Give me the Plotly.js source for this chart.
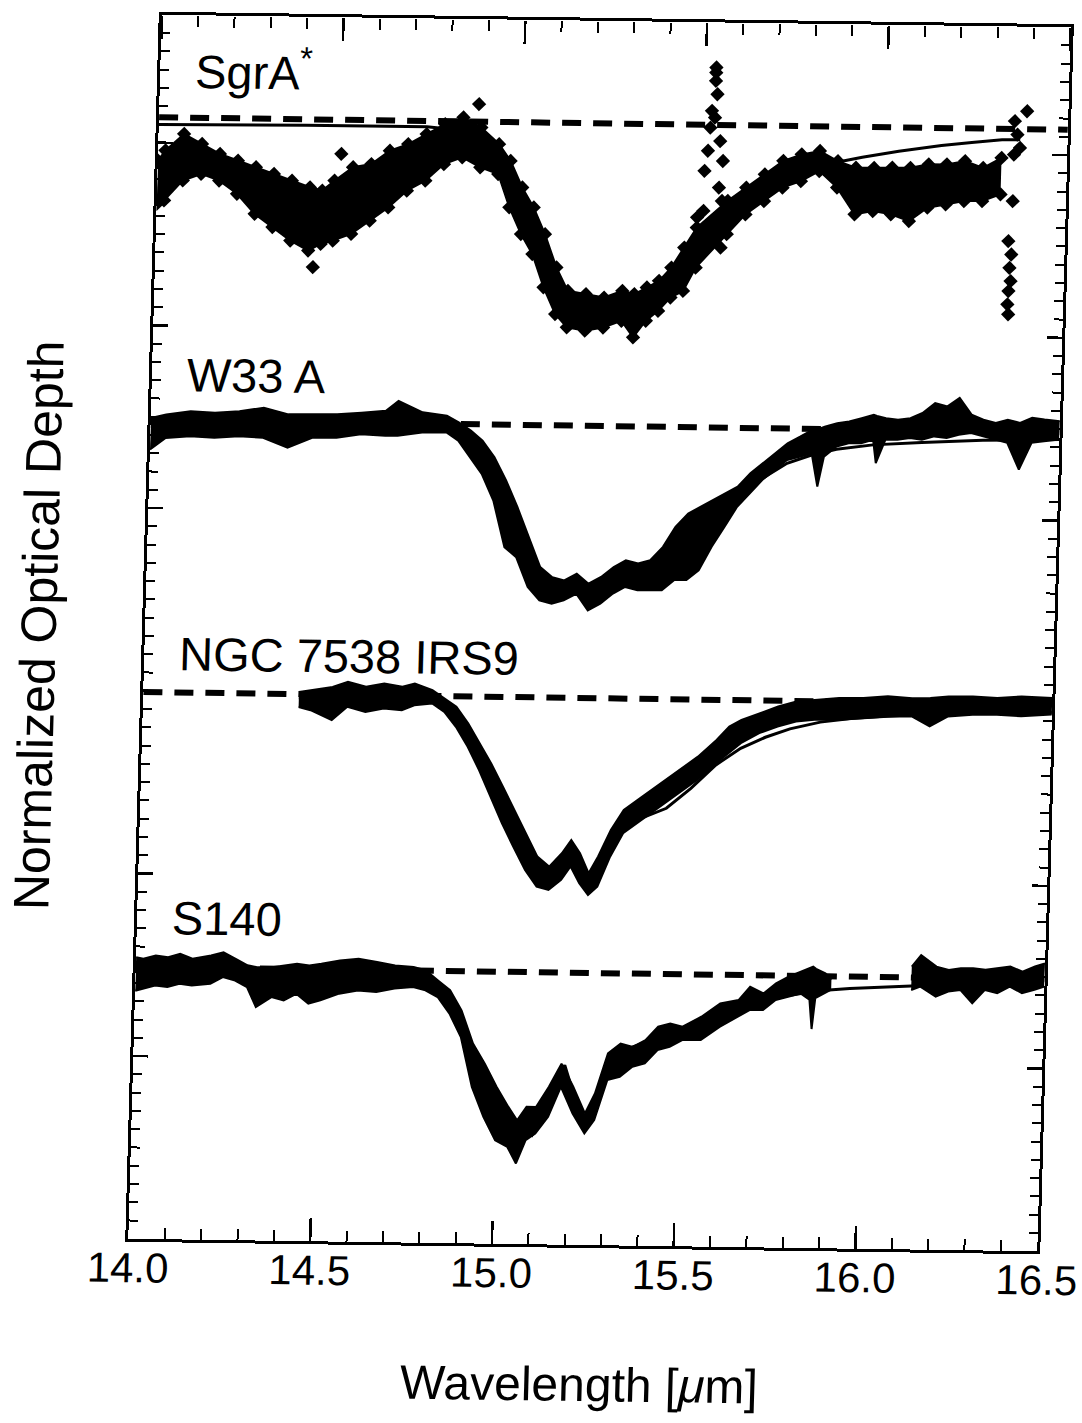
<!DOCTYPE html>
<html>
<head>
<meta charset="utf-8">
<script src="https://cdn.plot.ly/plotly-3.0.1.min.js"></script>
<style>
html,body{margin:0;padding:0;background:#fff;overflow:hidden;width:1082px;height:1423px;}
#chart{width:1110px;height:1423px;transform-origin:599px 633px;transform:matrix(1,0.01374,-0.02736,1,0,0);}
</style>
</head>
<body>
<div id="chart"></div>
<script>
// ---------- data ----------
// wavelength in micron; tau = normalized optical depth relative to each continuum (positive = absorption)
var xTickValues = [14.0, 14.5, 15.0, 15.5, 16.0, 16.5];
var xTickLabels = ['14.0', '14.5', '15.0', '15.5', '16.0', '16.5'];
var continuumWave = [14.0, 16.5];

var panelNames = ['SgrA<sup>*</sup>', 'W33 A', 'NGC 7538 IRS9', 'S140'];
var panelOffsets = [0.561, 2.217, 3.707, 5.211];

// Sgr A* : scatter band (upper / lower edge), isolated points, model
var sgrWave = [14.00,14.02,14.07,14.12,14.17,14.22,14.27,14.32,14.37,14.42,
  14.454,14.487,14.537,14.587,14.637,14.687,14.737,14.787,14.837,14.887,
  14.937,14.97,15.004,15.037,15.07,15.104,15.137,15.187,15.237,15.287,
  15.32,15.354,15.387,15.42,15.454,15.487,15.57,15.62,15.67,15.72,
  15.77,15.82,15.87,15.92,15.97,16.02,16.07,16.12,16.17,16.22,
  16.27,16.32];
var sgrTop = [0.237,0.181,0.089,0.142,0.196,0.231,0.266,0.301,0.337,0.372,
  0.389,0.334,0.259,0.240,0.166,0.128,0.072,0.016,-0.022,0.032,
  0.121,0.212,0.357,0.465,0.610,0.792,0.919,0.936,0.953,0.915,
  0.932,0.895,0.858,0.784,0.674,0.563,0.415,0.341,0.267,0.192,
  0.155,0.135,0.189,0.224,0.223,0.221,0.220,0.200,0.199,0.179,
  0.215,0.159];
var sgrBot = [0.474,0.455,0.344,0.307,0.342,0.413,0.522,0.593,0.665,0.718,
  0.681,0.662,0.624,0.550,0.476,0.383,0.327,0.235,0.197,0.250,
  0.286,0.467,0.612,0.721,0.902,1.047,1.119,1.136,1.117,1.079,
  1.169,1.077,1.022,0.948,0.911,0.782,0.597,0.487,0.413,0.338,
  0.301,0.245,0.334,0.479,0.460,0.476,0.512,0.437,0.418,0.398,
  0.397,0.359];
var sgrPointWave = [15.529,15.529,15.529,15.534,15.520,15.529,15.517,15.545,15.512,15.554,
  15.504,15.545,15.504,15.554,15.495,15.554,15.487,
  16.387,16.354,16.362,16.370,16.354,16.354,16.345,16.354,16.350,16.354,16.349,16.347,16.350,
  14.879,14.434,14.504];
var sgrPointTau = [-0.314,-0.286,-0.241,-0.168,-0.077,-0.040,0.015,0.088,0.142,0.197,
  0.252,0.343,0.471,0.416,0.598,0.671,0.507,
  -0.098,-0.043,0.030,0.103,0.140,0.395,0.614,0.687,0.760,0.833,0.887,0.960,1.015,
  -0.096,0.809,0.187];
var sgrModelWave = [14.00,14.404,14.737,14.837,14.904,14.937,14.970,15.004,15.037,15.070,
  15.104,15.137,15.187,15.237,15.287,15.320,15.370,15.420,15.470,15.520,
  15.570,15.637,15.704,15.770,15.854,15.937,16.037,16.154,16.237,16.320,16.370];
var sgrModelTau = [0.040,0.033,0.032,0.050,0.122,0.194,0.303,0.430,0.575,0.738,
  0.901,0.991,1.026,1.035,1.015,0.968,0.911,0.838,0.746,0.618,
  0.506,0.396,0.303,0.236,0.199,0.166,0.131,0.096,0.077,0.060,0.058];

// W33 A
var w33Wave = [14.000,14.042,14.109,14.176,14.243,14.310,14.378,14.445,14.512,14.579,
  14.646,14.680,14.747,14.814,14.847,14.881,14.914,14.948,14.982,15.015,
  15.049,15.082,15.116,15.149,15.183,15.216,15.250,15.284,15.317,15.351,
  15.384,15.418,15.451,15.485,15.518,15.552,15.586,15.619,15.653,15.686,
  15.720,15.753,15.787,15.820,15.838,15.854,15.888,15.921,15.955,15.988,
  15.997,16.022,16.055,16.089,16.122,16.156,16.190,16.223,16.257,16.290,
  16.324,16.357,16.391,16.424,16.458,16.500];
var w33Top = [-0.010,-0.030,-0.050,-0.043,-0.054,-0.074,-0.040,-0.042,-0.044,-0.055,
  -0.067,-0.122,-0.061,-0.045,-0.009,0.035,0.089,0.179,0.306,0.451,
  0.614,0.777,0.831,0.848,0.810,0.864,0.826,0.771,0.733,0.750,
  0.731,0.657,0.546,0.473,0.435,0.397,0.360,0.322,0.248,0.193,
  0.137,0.081,0.044,0.006,0.000,-0.013,-0.033,-0.043,-0.062,-0.081,
  -0.075,-0.064,-0.056,-0.066,-0.095,-0.150,-0.133,-0.180,-0.090,-0.063,
  -0.046,-0.065,-0.048,-0.077,-0.069,-0.061];
var w33Bot = [0.163,0.098,0.087,0.094,0.083,0.090,0.142,0.086,0.084,0.063,
  0.070,0.069,0.049,0.047,0.091,0.181,0.271,0.416,0.671,0.724,
  0.887,0.959,0.976,0.957,0.920,1.010,0.972,0.916,0.879,0.896,
  0.895,0.894,0.838,0.837,0.782,0.653,0.542,0.432,0.358,0.284,
  0.228,0.172,0.153,0.134,0.315,0.151,0.095,0.076,0.075,0.055,
  0.183,0.054,0.053,0.043,0.051,0.032,0.040,0.021,0.011,0.028,
  0.045,0.062,0.207,0.060,0.050,0.039];
var w33ModelWave = [14.0,14.780,14.831,14.881,14.948,15.015,15.065,15.099,15.133,15.183,
  15.233,15.284,15.351,15.418,15.485,15.552,15.619,15.686,15.753,15.820,
  15.888,15.988,16.122,16.290,16.5];
var w33ModelTau = [0.036,0.030,0.037,0.127,0.343,0.597,0.814,0.922,0.921,0.828,
  0.955,0.880,0.805,0.730,0.618,0.489,0.377,0.275,0.190,0.143,
  0.110,0.083,0.066,0.050,0.039];

// NGC 7538 IRS9
var ngcWave = [14.428,14.461,14.520,14.562,14.612,14.662,14.712,14.746,14.795,14.829,
  14.862,14.896,14.929,14.962,14.996,15.029,15.063,15.096,15.129,15.163,
  15.188,15.213,15.238,15.263,15.296,15.330,15.380,15.430,15.480,15.530,
  15.580,15.614,15.647,15.697,15.747,15.797,15.848,15.914,15.981,16.048,
  16.115,16.165,16.215,16.282,16.349,16.416,16.500];
var ngcTop = [-0.012,-0.022,-0.042,-0.071,-0.045,-0.064,-0.048,-0.067,-0.032,0.013,
  0.057,0.148,0.256,0.365,0.491,0.618,0.745,0.871,0.925,0.851,
  0.778,0.850,0.958,0.866,0.720,0.609,0.535,0.461,0.386,0.312,
  0.219,0.145,0.108,0.070,0.032,0.003,-0.008,-0.019,-0.021,-0.032,
  -0.024,-0.026,-0.036,-0.038,-0.031,-0.042,-0.036];
var ngcBot = [0.070,0.087,0.140,0.066,0.092,0.072,0.080,0.052,0.041,0.086,
  0.167,0.275,0.402,0.547,0.692,0.819,0.945,1.036,1.053,0.997,
  0.923,1.014,1.077,1.031,0.866,0.737,0.663,0.588,0.514,0.439,
  0.347,0.291,0.235,0.179,0.141,0.112,0.102,0.100,0.089,0.078,
  0.076,0.129,0.073,0.062,0.060,0.067,0.055];
var ngcModelWave = [14.428,14.795,14.862,14.946,15.029,15.088,15.122,15.155,15.188,15.230,
  15.263,15.296,15.321,15.380,15.447,15.513,15.580,15.647,15.714,15.781,
  15.864,15.948,16.115,16.282,16.500];
var ngcModelTau = [0.020,0.023,0.130,0.347,0.691,0.945,1.007,0.943,0.805,1.032,
  0.994,0.793,0.701,0.653,0.597,0.486,0.356,0.263,0.201,0.153,
  0.114,0.092,0.067,0.053,0.042];

// S140 (two data segments)
var s140WaveA = [14.000,14.020,14.054,14.088,14.121,14.155,14.206,14.240,14.274,14.307,
  14.333,14.375,14.409,14.443,14.477,14.510,14.561,14.612,14.663,14.713,
  14.764,14.798,14.832,14.866,14.899,14.933,14.967,15.001,15.035,15.060,
  15.085,15.111,15.145,15.178,15.212,15.246,15.272,15.305,15.339,15.373,
  15.407,15.441,15.474,15.508,15.559,15.610,15.660,15.691,15.728,15.762,
  15.796,15.830,15.855,15.863,15.871,15.897,15.914];
var s140TopA = [-0.052,-0.044,-0.063,-0.055,-0.074,-0.048,-0.067,-0.086,-0.051,-0.016,
  -0.007,-0.008,-0.018,-0.028,-0.020,-0.030,-0.050,-0.061,-0.044,-0.027,
  -0.020,-0.002,0.052,0.105,0.214,0.395,0.504,0.630,0.739,0.811,
  0.737,0.737,0.626,0.498,0.624,0.769,0.659,0.439,0.384,0.401,
  0.363,0.289,0.270,0.287,0.231,0.157,0.137,0.063,0.099,0.043,
  0.005,-0.023,-0.040,-0.051,-0.040,-0.016,0.018];
var s140BotA = [0.131,0.121,0.101,0.109,0.090,0.098,0.088,0.050,0.068,0.103,
  0.212,0.156,0.173,0.136,0.189,0.170,0.132,0.113,0.120,0.100,
  0.090,0.107,0.143,0.233,0.360,0.632,0.795,0.922,0.958,1.048,
  0.920,0.883,0.790,0.625,0.770,0.879,0.805,0.585,0.566,0.510,
  0.491,0.417,0.398,0.360,0.359,0.285,0.228,0.191,0.190,0.134,
  0.115,0.096,0.130,0.290,0.120,0.094,0.073];
var s140WaveB = [16.134,16.159,16.202,16.236,16.269,16.303,16.337,16.371,16.405,16.439,16.473,16.500];
var s140TopB = [-0.059,-0.123,-0.061,-0.044,-0.054,-0.055,-0.047,-0.057,-0.067,-0.040,-0.069,-0.087];
var s140BotB = [0.069,0.050,0.103,0.075,0.065,0.137,0.063,0.080,0.043,0.078,0.059,0.040];
var s140ModelWave = [14.000,14.781,14.849,14.916,14.984,15.052,15.102,15.187,15.246,15.305,
  15.373,15.458,15.542,15.627,15.711,15.796,15.880,15.965,16.134,16.303,16.490];
var s140ModelTau = [0.030,0.007,0.088,0.377,0.613,0.811,0.892,0.506,0.860,0.476,
  0.401,0.334,0.268,0.207,0.154,0.109,0.080,0.066,0.047,0.035,0.026];

// ---------- build traces ----------
function shift(arr, off) { return arr.map(function (v) { return v + off; }); }
var traces = [];
var BLACK = '#000';

// dashed continua (first one is tied to the top x axis so that axis is drawn)
panelOffsets.forEach(function (off, i) {
  traces.push({x: continuumWave, y: [off, off], mode: 'lines', hoverinfo: 'skip',
    xaxis: i === 0 ? 'x2' : 'x',
    line: {color: BLACK, width: 6, dash: '19px,12px'}});
});

function band(wave, top, bot, off, withMarkers) {
  var mk = withMarkers ? 'lines+markers' : 'lines';
  traces.push({x: wave, y: shift(top, off), mode: mk, hoverinfo: 'skip',
    line: {color: BLACK, width: 2}, marker: {symbol: 'diamond', size: 11, color: BLACK}});
  traces.push({x: wave, y: shift(bot, off), mode: mk, hoverinfo: 'skip', fill: 'tonexty', fillcolor: BLACK,
    line: {color: BLACK, width: 2}, marker: {symbol: 'diamond', size: 11, color: BLACK}});
}
function model(wave, tau, off) {
  traces.push({x: wave, y: shift(tau, off), mode: 'lines', hoverinfo: 'skip',
    line: {color: BLACK, width: 3}});
}

band(sgrWave, sgrTop, sgrBot, panelOffsets[0], true);
traces.push({x: sgrPointWave, y: shift(sgrPointTau, panelOffsets[0]), mode: 'markers', hoverinfo: 'skip',
  marker: {symbol: 'diamond', size: 11, color: BLACK}});
model(sgrModelWave, sgrModelTau, panelOffsets[0]);

band(w33Wave, w33Top, w33Bot, panelOffsets[1], false);
model(w33ModelWave, w33ModelTau, panelOffsets[1]);

band(ngcWave, ngcTop, ngcBot, panelOffsets[2], false);
model(ngcModelWave, ngcModelTau, panelOffsets[2]);

band(s140WaveA, s140TopA, s140BotA, panelOffsets[3], false);
band(s140WaveB, s140TopB, s140BotB, panelOffsets[3], false);
model(s140ModelWave, s140ModelTau, panelOffsets[3]);

// ---------- layout ----------
var FONT = '"Liberation Sans", Arial, Helvetica, sans-serif';
var labelY = [0.29, 1.97, 3.495, 4.94];
var annotations = panelNames.map(function (name, i) {
  return {text: name, x: 14.09, y: labelY[i], xref: 'x', yref: 'y', xanchor: 'left', yanchor: 'middle',
    showarrow: false, font: {size: 47, color: BLACK, family: FONT}};
});

var xRange = [13.9995, 16.5005];
var layout = {
  width: 1110, height: 1423,
  margin: {l: 145, r: 56, t: 21, b: 178},
  paper_bgcolor: '#fff', plot_bgcolor: '#fff',
  showlegend: false,
  font: {family: FONT, color: BLACK},
  annotations: annotations,
  xaxis: {
    range: xRange, tickmode: 'array', tickvals: xTickValues, ticktext: xTickLabels,
    ticks: 'inside', ticklen: 23, tickwidth: 2.5, tickcolor: BLACK,
    showline: true, linewidth: 3, linecolor: BLACK, mirror: true,
    showgrid: false, zeroline: false, ticklabelstandoff: -10, ticklabeloverflow: 'allow',
    tickfont: {size: 42, color: BLACK, family: FONT},
    minor: {dtick: 0.1, tick0: 14.0, ticks: 'inside', ticklen: 11, tickwidth: 2, tickcolor: BLACK, showgrid: false},
    title: {text: 'Wavelength [<i>μ</i>m]', font: {size: 48, color: BLACK, family: FONT}}
  },
  // tick marks hanging down from the top frame edge
  xaxis2: {
    overlaying: 'x', anchor: 'free', position: 1, side: 'bottom', range: xRange,
    tickmode: 'linear', tick0: 14.0, dtick: 0.5, showticklabels: false,
    ticks: 'outside', ticklen: 23, tickwidth: 2.5, tickcolor: BLACK,
    showline: false, showgrid: false, zeroline: false,
    minor: {dtick: 0.1, tick0: 14.0, ticks: 'outside', ticklen: 11, tickwidth: 2, tickcolor: BLACK, showgrid: false}
  },
  yaxis: {
    range: [6.7, 0], showticklabels: false,
    tick0: 0.7, dtick: 1, ticks: 'inside', ticklen: 15, tickwidth: 2.5, tickcolor: BLACK,
    showline: true, linewidth: 3, linecolor: BLACK, mirror: 'ticks',
    showgrid: false, zeroline: false,
    minor: {dtick: 0.1, tick0: 0.7, ticks: 'inside', ticklen: 9, tickwidth: 2, tickcolor: BLACK, showgrid: false},
    title: {text: 'Normalized Optical Depth', font: {size: 50, color: BLACK, family: FONT}, standoff: 70}
  }
};

Plotly.newPlot('chart', traces, layout, {staticPlot: true, displayModeBar: false});
</script>
</body>
</html>
